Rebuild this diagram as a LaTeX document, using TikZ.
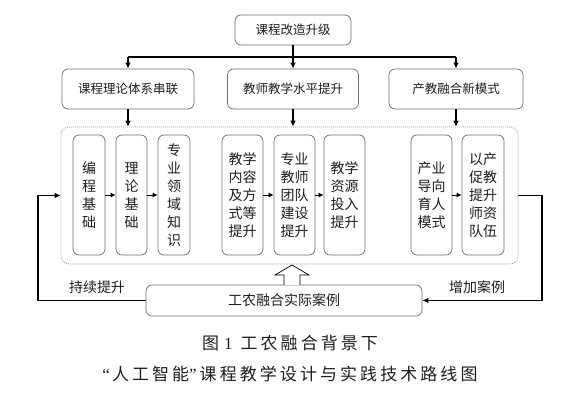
\documentclass[tikz,border=0pt]{standalone}
\usepackage{fontspec}
\setmainfont{Liberation Serif}
\newfontfamily\cjk{Noto Sans CJK SC}
\newfontfamily\capfont[LetterSpace=18]{Noto Sans CJK SC}
\usetikzlibrary{arrows.meta}
\definecolor{boxgray}{HTML}{6E6E6E}
\definecolor{txt}{HTML}{1E1E1E}
\tikzset{
  obox/.style={draw=boxgray, rounded corners=6pt, line width=0.7pt, inner sep=0pt,
    text=txt, font=\cjk\fontsize{12.5}{15}\selectfont},
  ibox/.style={draw=boxgray, rounded corners=6pt, line width=0.7pt, inner sep=0pt,
    align=center, text=txt, minimum height=120pt, font=\cjk\fontsize{14}{18}\selectfont},
  conn/.style={draw=black, line width=1.1pt},
  arr/.style={conn, -{Latex[length=6pt,width=5.5pt]}},
  sarr/.style={draw=black, line width=0.9pt, -{Latex[length=5pt,width=5pt]}},
  lbl/.style={text=txt, font=\cjk\fontsize{14}{16}\selectfont},
  captext/.style={text=txt, font=\capfont\fontsize{17}{20}\selectfont}
}
\begin{document}
\begin{tikzpicture}[x=1pt,y=-1pt]
\useasboundingbox (0,0) rectangle (582,401);
% top
\node[obox, minimum width=116pt, minimum height=30pt] (top) at (293,30) {课程改造升级};
% second row
\node[obox, minimum width=132pt, minimum height=40pt] (l2) at (128,89) {课程理论体系串联};
\node[obox, minimum width=131pt, minimum height=40pt] (m2) at (293,89) {教师教学水平提升};
\node[obox, minimum width=134pt, minimum height=40pt] (r2) at (456,89) {产教融合新模式};
% container
\node[draw=boxgray!70, dash pattern=on 1pt off 1pt, line width=0.6pt, rounded corners=8pt,
      minimum width=457pt, minimum height=137pt, inner sep=0pt] (cont) at (289.5,195.5) {};
% inner boxes
\node[ibox, minimum width=32pt] (a) at (89,195) {编\\程\\基\\础};
\node[ibox, minimum width=31pt] (b) at (131.5,195) {理\\论\\基\\础};
\node[ibox, minimum width=32pt] (c) at (174,195) {专\\业\\领\\域\\知\\识};
\node[ibox, minimum width=41pt] (d) at (242.5,195) {教学\\内容\\及方\\式等\\提升};
\node[ibox, minimum width=41pt] (e) at (294.5,195) {专业\\教师\\团队\\建设\\提升};
\node[ibox, minimum width=41pt] (f) at (344.5,195) {教学\\资源\\投入\\提升};
\node[ibox, minimum width=41pt] (g) at (431.5,195) {产业\\导向\\育人\\模式};
\node[ibox, minimum width=42pt] (h) at (483,195) {以产\\促教\\提升\\师资\\队伍};
% bottom box
\node[obox, minimum width=276pt, minimum height=31pt, font=\cjk\fontsize{14}{16}\selectfont] (bot) at (284,300.5) {工农融合实际案例};
% top connectors
\coordinate (hl) at (128,57);
\coordinate (hr) at (456,57);
\draw[conn] (hl) -- (hr);
\draw[arr] (top.south) -- (m2.north);
\draw[arr] (hl) -- (l2.north);
\draw[arr] (hr) -- (r2.north);
\draw[arr] (l2.south) -- (l2.south |- cont.north);
\draw[arr] (m2.south) -- (m2.south |- cont.north);
\draw[arr] (r2.south) -- (r2.south |- cont.north);
% inner arrows
\draw[sarr] (a.east) -- (b.west);
\draw[sarr] (b.east) -- (c.west);
\draw[sarr] (d.east) -- (e.west);
\draw[sarr] (e.east) -- (f.west);
\draw[sarr] (g.east) -- (h.west);
% hollow arrow
\draw[draw=black, line width=0.7pt, fill=white] (284,285) -- (284,275) -- (275,275) -- (292,265) -- (309,275) -- (300,275) -- (300,285);
% loops
\coordinate (lc) at (38,300.5);
\coordinate (rc) at (542,300.5);
\draw[arr] (bot.west) -- (lc) |- (cont.west);
\draw[arr] (cont.east) -| (rc) -- (bot.east);
\node[lbl] (lp) at (97,287) {持续提升};
\node[lbl] (rp) at (477,287) {增加案例};
% caption
\node[captext] (c1) at (290,343) {图\hspace{5pt}{\rmfamily 1}\hspace{8pt}工农融合背景下};
\node[captext] (c2) at (290,374) {{\rmfamily “}\hspace{2pt}人工智能{\rmfamily ”}\hspace{3pt}课程教学设计与实践技术路线图};
\end{tikzpicture}
\end{document}
